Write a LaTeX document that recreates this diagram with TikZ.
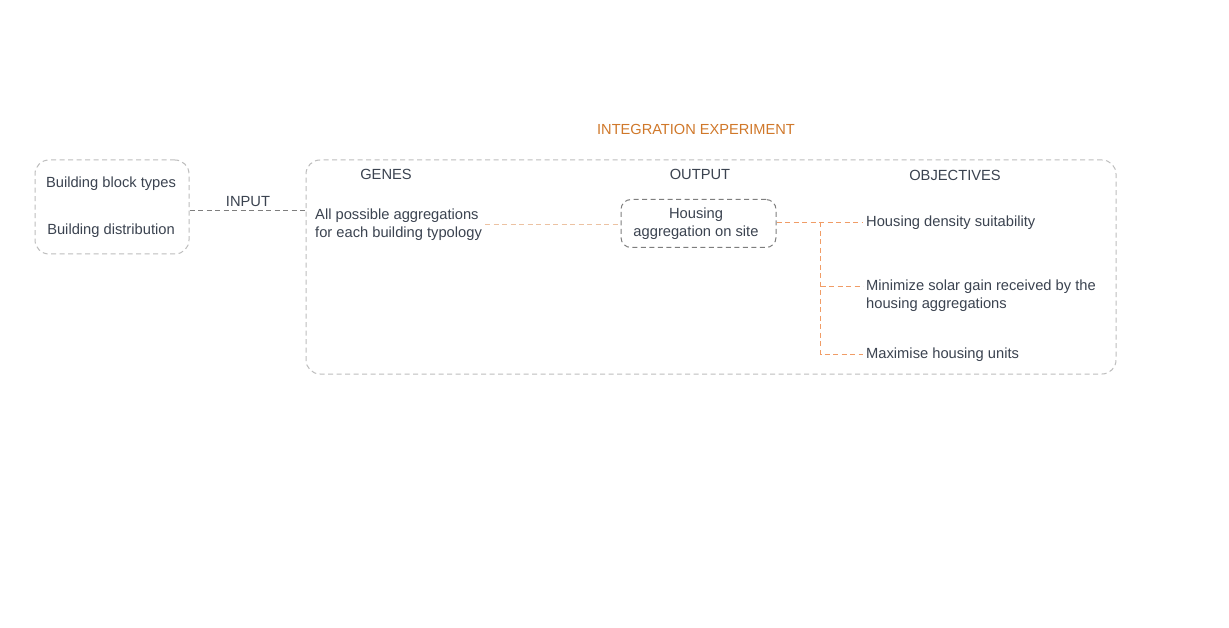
\documentclass[tikz,border=0pt]{standalone}
\usepackage{fontspec}
\setmainfont{Liberation Sans}
\definecolor{txt}{HTML}{3B4350}
\definecolor{ttl}{HTML}{D0782A}
\definecolor{lgray}{HTML}{BDBDBD}
\definecolor{dgray}{HTML}{7E7E7E}
\definecolor{orng}{HTML}{F09C66}
\definecolor{porng}{HTML}{ECC2A2}
\begin{document}
\begin{tikzpicture}[x=1pt,y=-1pt,
  lbl/.style={font=\fontsize{14.7}{18}\selectfont, text=txt, inner sep=3pt},
  ttlstyle/.style={font=\fontsize{14.6}{18}\selectfont, text=ttl, inner sep=0pt},
  lightbox/.style={draw=lgray, line width=1pt, dash pattern=on 5pt off 3.5pt, rounded corners=14pt, inner sep=0pt},
  darkbox/.style={draw=dgray, line width=1pt, dash pattern=on 5pt off 3.5pt, rounded corners=10pt, inner sep=0pt},
  darkline/.style={draw=dgray, line width=1pt, dash pattern=on 5pt off 3.5pt},
  orline/.style={draw=orng, line width=1pt, dash pattern=on 5pt off 3.5pt},
  paleline/.style={draw=porng, line width=1pt, dash pattern=on 5pt off 3.5pt}]
\useasboundingbox[fill=white] (0,0) rectangle (1229,628);

% input box
\node[lightbox, minimum width=154pt, minimum height=94pt] (inbox) at (112,207) {};
\node[lbl] (t1) at (111,184) {Building block types};
\node[lbl] (t2) at (111,231) {Building distribution};

% experiment box
\node[lightbox, minimum width=810pt, minimum height=214pt] (exp) at (711,267) {};
\node[ttlstyle] (title) at (696,129) {INTEGRATION EXPERIMENT};

% input connector
\coordinate (inpt) at (inbox.east |- 0,210.5);
\draw[darkline] (inpt) -- (inpt -| exp.west);
\node[lbl] (input) at (248,201.5) {INPUT};

% headers
\node[lbl] (genes) at (386,174) {GENES};
\node[lbl] (output) at (700,174) {OUTPUT};
\node[lbl] (objectives) at (955,175) {OBJECTIVES};

% genes
\node[lbl, align=left, anchor=west] (gtext) at (312,225) {All possible aggregations\\for each building typology};

% output box
\node[darkbox, minimum width=155pt, minimum height=48pt] (outbox) at (698.5,223.5) {};
\node[lbl, align=center] (otext) at (696,224) {Housing\\aggregation on site};

% objectives
\node[lbl, anchor=west] (obj1) at (863,223) {Housing density suitability};
\node[lbl, anchor=north west, align=left] (obj2) at (863,276.5) {Minimize solar gain received by the\\housing aggregations};
\node[lbl, anchor=west] (obj3) at (863,355) {Maximise housing units};
\coordinate (b2) at (863,286.5);
\coordinate (b3) at (863,354.5);
\coordinate (j) at (820.5,222.5);
\coordinate (g) at (gtext.east |- 0,224.5);

% connectors
\draw[paleline] (g) -- (g -| outbox.west);
\draw[orline] (outbox.east |- j) -- (j -| obj1.west);
\draw[orline] (j) |- (b3);
\draw[orline] (j |- b2) -- (b2);
\end{tikzpicture}
\end{document}
